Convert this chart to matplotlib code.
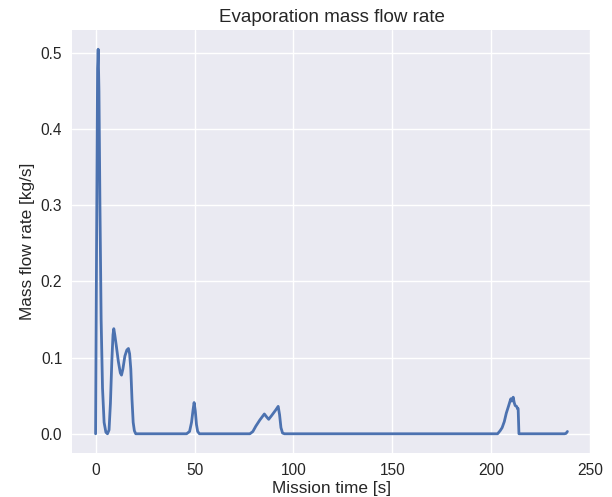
import matplotlib
matplotlib.use("Agg")
import matplotlib.pyplot as plt

# values
mission_time = [
    0.0, 0.5, 1.0, 1.3, 1.7, 2.2, 2.8, 3.5, 4.3, 5.2, 6.0, 6.8, 7.5, 8.2, 8.8,
    9.2, 9.7, 10.5, 11.5, 12.5, 13.1, 13.8, 14.8, 15.8, 16.6, 17.2, 17.8, 18.4,
    19.0, 19.6, 20.3, 46.0, 47.5, 48.5, 49.3, 49.8, 50.4, 51.0, 51.6, 52.5,
    78.0, 79.5, 81.0, 83.0, 85.3, 86.5, 87.5, 89.0, 91.0, 92.3, 93.0, 93.7,
    94.5, 95.5, 203.2, 204.5, 205.5, 206.6, 207.6, 208.7, 209.4, 209.9, 210.4,
    211.1, 211.6, 212.1, 212.8, 213.3, 213.6, 214.0, 237.0, 237.8, 238.5,
]
mass_flow = [
    0.0, 0.25, 0.48, 0.505, 0.45, 0.30, 0.15, 0.06, 0.015, 0.002, 0.0, 0.005,
    0.04, 0.095, 0.13, 0.138, 0.13, 0.115, 0.095, 0.08, 0.077, 0.085, 0.102,
    0.11, 0.112, 0.105, 0.085, 0.045, 0.015, 0.004, 0.0, 0.0, 0.003, 0.015,
    0.032, 0.041, 0.03, 0.012, 0.003, 0.0,
    0.0, 0.003, 0.01, 0.018, 0.026, 0.022, 0.019, 0.024, 0.031, 0.036, 0.025,
    0.008, 0.001, 0.0, 0.0, 0.004, 0.008, 0.016, 0.027, 0.036, 0.042, 0.046,
    0.043, 0.048, 0.041, 0.037, 0.036, 0.033, 0.033, 0.0, 0.0, 0.0005, 0.003,
]

plt.style.use('seaborn-v0_8')
plt.rcParams['font.family'] = ['Liberation Sans', 'DejaVu Sans']

fig = plt.figure(figsize=(6.12, 4.97), dpi=100)
ax = fig.add_axes([72 / 612, 44 / 497, 519 / 612, 423 / 497])

ax.plot(mission_time, mass_flow, color='#4C72B0', linewidth=2)

ax.set_title('Evaporation mass flow rate', fontsize=13.5)
ax.set_xlabel('Mission time [s]', fontsize=12.4, labelpad=2)
ax.set_ylabel('Mass flow rate [kg/s]', fontsize=12.4)
ax.tick_params(labelsize=11.2)

plt.savefig('out.png', dpi=100)
